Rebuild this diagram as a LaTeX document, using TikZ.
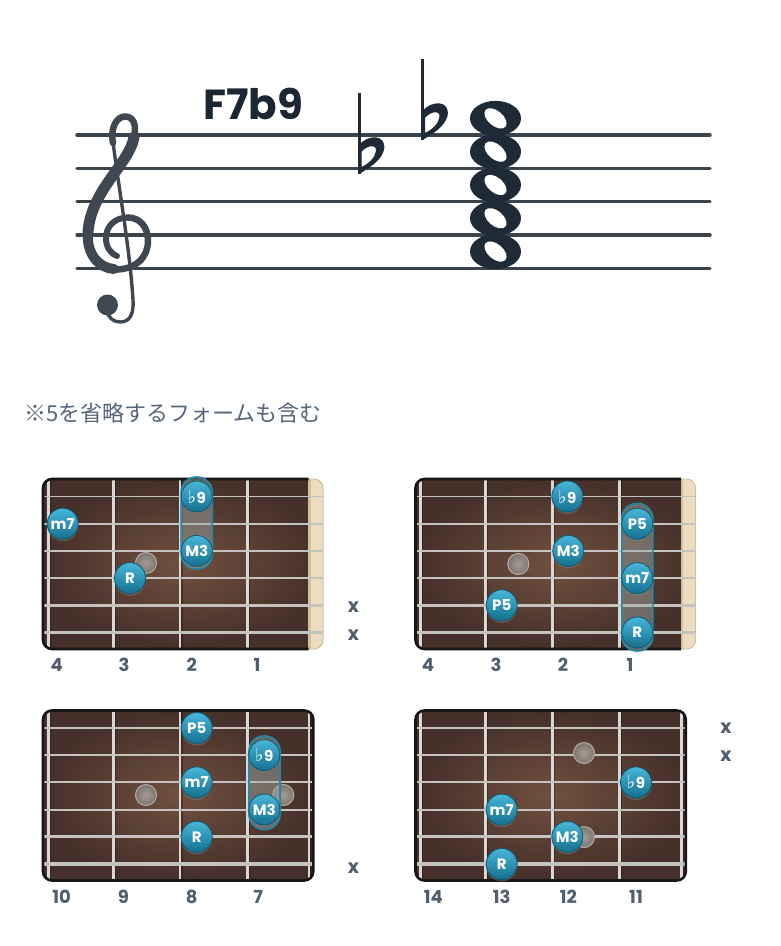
\documentclass[tikz,border=0pt]{standalone}
\usepackage{fontspec}
\usetikzlibrary{shadows}
\newfontfamily\popf{Poppins}
\newfontfamily\djvf{DejaVu Sans}
\newfontfamily\jpf{Noto Sans CJK JP}
\definecolor{staffcol}{HTML}{3B434B}
\definecolor{clefcol}{HTML}{3F4851}
\definecolor{notecol}{HTML}{1E2A35}
\definecolor{titlecol}{HTML}{1B2733}
\definecolor{jpcol}{HTML}{56667A}
\definecolor{numcol}{HTML}{4F5F70}
\definecolor{woodIn}{HTML}{71503F}
\definecolor{woodOut}{HTML}{45302A}
\definecolor{fretcol}{HTML}{DAD7D4}
\definecolor{stringcol}{HTML}{C6C2BE}
\definecolor{nutcol}{HTML}{ECDCC0}
\definecolor{nutshade}{HTML}{D2BF9E}
\definecolor{bordercol}{HTML}{161616}
\definecolor{dotTop}{HTML}{48B6D8}
\definecolor{dotBot}{HTML}{15708E}
\definecolor{dotRim}{HTML}{0F5A74}
\definecolor{capRim}{HTML}{2389A8}
\definecolor{capFill}{HTML}{A0ABAB}
\definecolor{inlayIn}{HTML}{A39C97}
\definecolor{inlayOut}{HTML}{7D7570}
\definecolor{inlayRim}{HTML}{B3ADA8}
\tikzset{
  staffline/.style={draw=staffcol, line width=3.4pt, line cap=round},
  notehead/.style={fill=notecol},
  tealdot/.style={circle, minimum size=31pt, inner sep=0pt, top color=dotTop, bottom color=dotBot,
    draw=dotRim, line width=0.8pt, text=white, font=\popf\bfseries\fontsize{15}{15}\selectfont,
    drop shadow={shadow xshift=0pt, shadow yshift=-2pt, opacity=0.45}},
  inlay/.style={circle, minimum size=21pt, inner sep=0pt, inner color=inlayIn, outer color=inlayOut,
    draw=inlayRim, line width=1pt},
  capsule/.style={rounded corners=15pt, draw=capRim, line width=1.6pt, fill=capFill, fill opacity=0.45},
  fretnum/.style={font=\popf\bfseries\fontsize{18}{18}\selectfont, text=numcol, inner sep=0pt},
  mutex/.style={font=\popf\bfseries\fontsize{19}{19}\selectfont, text=numcol, inner sep=0pt},
  fretwire/.style={draw=fretcol, line width=2.8pt},
  fretshade/.style={draw=black, line width=1.5pt, opacity=0.3},
  boardborder/.style={draw=bordercol, line width=2.6pt},
}
\newcommand\flt{{\djvf\fontsize{18}{18}\selectfont ♭}\kern0.5pt}
% wood + frets, board right edge #1, fret list #2
\newcommand\woodframe[2]{%
  \begin{scope}
    \clip[rounded corners=9pt] (43,479) rectangle (#1,649);
    \fill[inner color=woodIn, outer color=woodOut] (43,479) rectangle (#1,649);
    \foreach \fx in {#2} {
      \draw[fretshade] (\fx+1.9,479) -- (\fx+1.9,649);
      \draw[fretwire] (\fx,479) -- (\fx,649);
    }
  \end{scope}}
\newcommand\strings[1]{%
  \foreach \sy/\sw in {496.5/1.6, 523.7/1.8, 550.9/2.0, 578.1/2.2, 605.3/2.9, 632.5/3.3}
    \draw[stringcol, line width=\sw pt] (44,\sy) -- (#1,\sy);}
\newcommand\nutboard{%
  \woodframe{323}{48.3,113.3,180,247.3}
  \begin{scope}
    \clip[rounded corners=9pt] (43,479) rectangle (323,649);
    \fill[nutcol] (308,479) rectangle (323,649);
    \fill[nutshade] (308,479) rectangle (310.5,649);
  \end{scope}
  \draw[nutshade, line width=0.8pt, rounded corners=9pt] (310,479) -- (323,479) -- (323,649) -- (310,649);
  \strings{322.5}
  \draw[boardborder, rounded corners=9pt] (308.5,479) -- (43,479) -- (43,649) -- (308.5,649);}
\newcommand\plainboard{%
  \woodframe{313.3}{48.3,113.3,180,247.3,309}
  \strings{312.5}
  \draw[boardborder, rounded corners=9pt] (43,479) rectangle (313.3,649);}
\begin{document}
\begin{tikzpicture}[x=1pt,y=-1pt]
\useasboundingbox (0,0) rectangle (780,946);
\fill[white] (0,0) rectangle (780,946);

% ---------- staff ----------
\foreach \ly in {135,168.3,201.6,234.9,268.2}
  \draw[staffline] (77,\ly) -- (710,\ly);

% treble clef
\begin{scope}[color=clefcol, line cap=round, line join=round]
  \draw[line width=3.4pt] (113,142) .. controls (119,190) and (130,250) .. (133,300)
        .. controls (134,317) and (128,322) .. (120,322)
        .. controls (113,322) and (108,317) .. (107,311);
  \fill (107.5,305) circle (10.5);
  \draw[line width=6.5pt] (113,143) .. controls (110,127) and (117,116.5) .. (125,116.5)
        .. controls (133,116.5) and (137,124) .. (134,137);
  \draw[line width=11pt] (134,137) .. controls (130,163) and (91,190) .. (88,232);
  \draw[line width=10pt] (88,232) .. controls (86,254) and (99,268) .. (114,269);
  \draw[line width=6.5pt] (114,269.5) .. controls (136,270) and (148,257) .. (148,241)
        .. controls (148,226) and (139,217.5) .. (128,217.5);
  \draw[line width=6pt] (128,217.5) .. controls (114,217.5) and (106,227) .. (106,238)
        .. controls (106,247) and (110,253) .. (117,256);
\end{scope}

% chord name
\node[anchor=west, inner sep=0pt, text=titlecol, font=\popf\bfseries\fontsize{42}{42}\selectfont] (title) at (203,104) {F7b9};

% flats
\foreach \fdx/\fdy in {0/0, 63.5/-34} {
  \begin{scope}[shift={(\fdx,\fdy)}]
    \draw[notecol, line width=3pt] (359,93) -- (359,174);
    \fill[notecol, even odd rule] (359,145) .. controls (368,134) and (387,134) .. (384,150)
       .. controls (381,161) and (369,168) .. (359,174) -- cycle
       (361.5,152) .. controls (367,145) and (377,144) .. (376,151)
       .. controls (375,158) and (368,164) .. (361.5,167) -- cycle;
  \end{scope}
}

% whole notes
\foreach \ny in {118.35,151.65,184.95,218.25,251.55} {
  \fill[notehead] (495.5,\ny) ellipse [x radius=25.5, y radius=17.5];
  \fill[white, rotate around={-40:(495.5,\ny)}] (495.5,\ny) ellipse [x radius=13, y radius=7.5];
}

% note text
\node[anchor=west, inner sep=0pt, text=jpcol, font=\jpf\fontsize{22}{22}\selectfont] (remark) at (24,413) {※5を省略するフォームも含む};

% ---------- board 1 ----------
\nutboard
\node[inlay] (b1i) at (146,563) {};
\draw[capsule] (181.2,477) rectangle (212.2,569);
\node[tealdot] (b1a) at (62.7,523.7) {m7};
\node[tealdot] (b1b) at (130,578.1) {R};
\node[tealdot] (b1c) at (196.7,496.5) {\flt9};
\node[tealdot] (b1d) at (196.7,550.9) {M3};
\node[fretnum] (b1n4) at (56.7,665) {4};
\node[fretnum] (b1n3) at (124,665) {3};
\node[fretnum] (b1n2) at (191.7,665) {2};
\node[fretnum] (b1n1) at (257,665) {1};
\node[mutex] (b1x5) at (353.5,607.5) {x};
\node[mutex] (b1x6) at (353.5,635.5) {x};

% ---------- board 2 ----------
\begin{scope}[shift={(372.5,0)}]
  \nutboard
\end{scope}
\node[inlay] (b2i) at (518.3,564) {};
\draw[capsule] (621.8,503.5) rectangle (652.8,651);
\node[tealdot] (b2a) at (567.3,496.5) {\flt9};
\node[tealdot] (b2b) at (637.3,523.7) {P5};
\node[tealdot] (b2c) at (568.3,550.9) {M3};
\node[tealdot] (b2d) at (637.3,578.1) {m7};
\node[tealdot] (b2e) at (501.7,605.3) {P5};
\node[tealdot] (b2f) at (637.3,632.5) {R};
\node[fretnum] (b2n4) at (428,665) {4};
\node[fretnum] (b2n3) at (496,665) {3};
\node[fretnum] (b2n2) at (563,665) {2};
\node[fretnum] (b2n1) at (630,665) {1};

% ---------- board 3 ----------
\begin{scope}[shift={(0,231.5)}]
  \plainboard
\end{scope}
\node[inlay] (b3i1) at (146,795) {};
\node[inlay] (b3i2) at (283.3,795) {};
\draw[capsule] (249,736) rectangle (280,829.5);
\node[tealdot] (b3a) at (196.7,728) {P5};
\node[tealdot] (b3b) at (264.3,755.2) {\flt9};
\node[tealdot] (b3c) at (196.7,782.4) {m7};
\node[tealdot] (b3d) at (264.3,809.6) {M3};
\node[tealdot] (b3e) at (196.7,836.8) {R};
\node[fretnum] (b3n10) at (61.7,897) {10};
\node[fretnum] (b3n9) at (123.3,897) {9};
\node[fretnum] (b3n8) at (191.7,897) {8};
\node[fretnum] (b3n7) at (258.3,897) {7};
\node[mutex] (b3x6) at (353.5,868) {x};

% ---------- board 4 ----------
\begin{scope}[shift={(372.5,231.5)}]
  \plainboard
\end{scope}
\node[inlay] (b4i1) at (584,753) {};
\node[inlay] (b4i2) at (584,837) {};
\node[tealdot] (b4a) at (636,782.4) {\flt9};
\node[tealdot] (b4b) at (501.7,809.6) {m7};
\node[tealdot] (b4c) at (567.3,836.8) {M3};
\node[tealdot] (b4d) at (501.7,864) {R};
\node[fretnum] (b4n14) at (433.3,897) {14};
\node[fretnum] (b4n13) at (501.7,897) {13};
\node[fretnum] (b4n12) at (568.3,897) {12};
\node[fretnum] (b4n11) at (636,897) {11};
\node[mutex] (b4x1) at (726,728.3) {x};
\node[mutex] (b4x2) at (726,756) {x};
\end{tikzpicture}
\end{document}
